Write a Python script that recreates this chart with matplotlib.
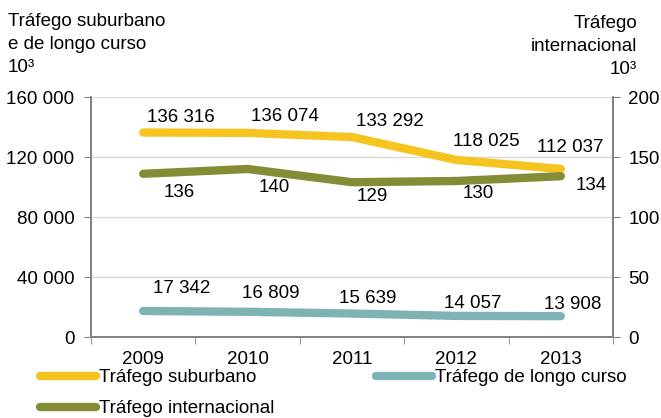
import matplotlib
matplotlib.use("Agg")
import matplotlib.pyplot as plt
from matplotlib.ticker import FuncFormatter, FixedLocator

plt.rcParams['font.family'] = ['Liberation Sans', 'DejaVu Sans']
plt.rcParams['font.size'] = 13.5

# ---- data ----
years = ['2009', '2010', '2011', '2012', '2013']
suburbano = [136316, 136074, 133292, 118025, 112037]
longo_curso = [17342, 16809, 15639, 14057, 13908]
internacional = [136, 140, 129, 130, 134]

# label offsets in pixels (dx, dy) relative to each point
off_sub = [(38, 15), (37, 16), (38, 16), (30, 18), (9, 21)]
off_longo = [(38, 22), (23, 18), (16, 15), (16, 12), (12, 12)]
off_int = [(36, -19), (27, -19), (20, -14), (22, -13), (30, -9)]

c_sub = '#F5C41F'
c_longo = '#7FB3B3'
c_int = '#858C36'
c_axis = '#808080'
c_grid = '#D9D9D9'

fig = plt.figure(figsize=(6.61, 4.18), dpi=100)
ax = fig.add_axes([91 / 661, 81 / 418, 522 / 661, 240 / 418])
ax2 = ax.twinx()

x = list(range(len(years)))
ln_sub, = ax.plot(x, suburbano, color=c_sub, lw=6, solid_capstyle='round',
                  solid_joinstyle='round', label='Tráfego suburbano', zorder=3)
ln_longo, = ax.plot(x, longo_curso, color=c_longo, lw=6, solid_capstyle='round',
                    solid_joinstyle='round', label='Tráfego de longo curso', zorder=3)
ln_int, = ax2.plot(x, internacional, color=c_int, lw=6, solid_capstyle='round',
                   solid_joinstyle='round', label='Tráfego internacional', zorder=3)

fmt_sp = lambda v: f'{v:,}'.replace(',', ' ')

for xi, v, (dx, dy) in zip(x, suburbano, off_sub):
    ax.annotate(fmt_sp(v), (xi, v), xytext=(dx, dy), textcoords='offset pixels',
                ha='center', va='center')
for xi, v, (dx, dy) in zip(x, longo_curso, off_longo):
    ax.annotate(fmt_sp(v), (xi, v), xytext=(dx, dy), textcoords='offset pixels',
                ha='center', va='center')
for xi, v, (dx, dy) in zip(x, internacional, off_int):
    ax2.annotate(str(v), (xi, v), xytext=(dx, dy), textcoords='offset pixels',
                 ha='center', va='center')

ax.set_xlim(-0.5, 4.5)
ax.set_ylim(0, 160000)
ax2.set_ylim(0, 200)
ax.set_yticks([0, 40000, 80000, 120000, 160000])
ax.yaxis.set_major_formatter(FuncFormatter(lambda v, p: fmt_sp(int(v))))
ax2.set_yticks([0, 50, 100, 150, 200])

ax.set_xticks(x)
ax.set_xticklabels(years)
ax.xaxis.set_minor_locator(FixedLocator([-0.5, 0.5, 1.5, 2.5, 3.5, 4.5]))
ax.tick_params(axis='x', which='major', length=0, pad=10)
ax.tick_params(axis='x', which='minor', length=5, color=c_axis, direction='out')
ax.tick_params(axis='y', length=5, color=c_axis, pad=7)
ax2.tick_params(axis='y', length=5, color=c_axis, pad=6)

ax.grid(axis='y', color=c_grid, lw=1)
ax.set_axisbelow(True)
for a in (ax, ax2):
    a.spines['top'].set_visible(False)
    for s in ('left', 'right', 'bottom'):
        a.spines[s].set_color(c_axis)
        a.spines[s].set_linewidth(1.2)

fig.text(8 / 661, 1 - 13 / 418, 'Tráfego suburbano\ne de longo curso\n10³',
         ha='left', va='top', linespacing=1.45)
fig.text(637 / 661, 1 - 15 / 418, 'Tráfego\ninternacional\n10³',
         ha='right', va='top', linespacing=1.45)

fig.legend(handles=[ln_sub, ln_int, ln_longo], loc='upper left',
           bbox_to_anchor=(40 / 661, 1 - 369 / 418), ncol=2, frameon=False,
           handlelength=3.0, handletextpad=0.15, columnspacing=5.4,
           labelspacing=0.75, borderpad=0, borderaxespad=0)

fig.savefig('out.png', dpi=100, facecolor='white')
